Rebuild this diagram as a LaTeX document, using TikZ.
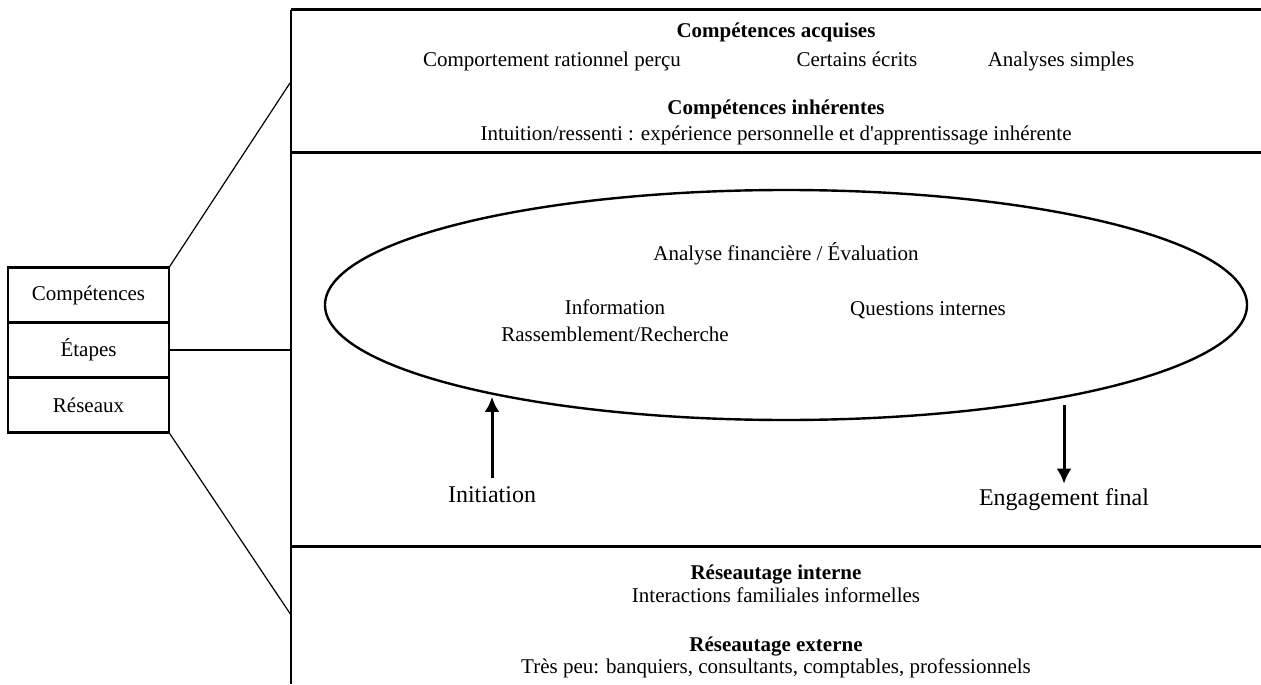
\documentclass[tikz,border=0pt]{standalone}
\usepackage{fontspec}
\setmainfont{Liberation Serif}
\usetikzlibrary{positioning,arrows.meta,shapes.geometric}
\tikzset{
	txt/.style={font=\fontsize{10.5}{13}\selectfont, inner sep=0, anchor=base},
	bold/.style={txt, font=\fontsize{10.5}{13}\selectfont\bfseries},
	big/.style={font=\fontsize{12}{14}\selectfont, inner sep=0, anchor=base},
	part/.style={draw, line width=1.2, minimum width=80.5pt, minimum height=27.5pt, inner sep=0, outer sep=0, font=\fontsize{10.5}{13}\selectfont},
	flow/.style={arrows=-{Latex[length=7.5pt,width=7.5pt]}, line width=1.5}
}
\begin{document}
\begin{tikzpicture}[x=0.5pt,y=-0.5pt]
	\useasboundingbox (0,0) rectangle (1261,684);
	% Panels
	\draw [line width=1.0] (291,10) -- (291,684);
	\draw [line width=1.5] (291,10) -- (1261,10);
	\draw [line width=1.5] (291,153) -- (1261,153);
	\draw [line width=1.5] (291,546) -- (1261,546);
	% Left boxes
	\node [part] (comp) at (88.5,295) {Compétences};
	\node [part, below=0pt of comp] (etap) {Étapes};
	\node [part, below=0pt of etap] (res) {Réseaux};
	\coordinate (top) at (290,83);
	\coordinate (mid) at (291,350);
	\coordinate (bot) at (291,615);
	\draw [line width=0.6] (comp.north east) -- (top);
	\draw [line width=0.6] (etap.east) -- (mid);
	\draw [line width=0.6] (res.south east) -- (bot);
	% Competences
	\node [bold] (acq) at (776,38) {Compétences acquises};
	\node [txt] (ratio) at (552,67) {Comportement rationnel perçu};
	\node [txt] (ecrits) at (857,67) {Certains écrits};
	\node [txt] (simples) at (1061,67) {Analyses simples};
	\node [bold] (inh) at (776,115) {Compétences inhérentes};
	\node [txt] (intu) at (776,141) {Intuition/ressenti : expérience personnelle et d\textquotesingle apprentissage inhérente};
	% Stages
	\node [draw, ellipse, line width=1.2, minimum width=461pt, minimum height=115pt, inner sep=0] (proc) at (786,305) {};
	\node [txt] (fin) at (786,260) {Analyse financière / Évaluation};
	\node [txt, align=center, font=\fontsize{10.5}{13.5}\selectfont] (info) at (615,341) {Information\\Rassemblement/Recherche};
	\node [txt] (quest) at (928,315) {Questions internes};
	\node [big] (init) at (492,502) {Initiation};
	\node [big] (eng) at (1064,505) {Engagement final};
	\draw [flow, shorten <=4pt] (init.north) -- (init.north |- proc.-162);
	\draw [flow, shorten <=5pt, shorten >=2pt] (eng.north |- proc.-17) -- (eng.north);
	% Networks
	\node [bold] (rint) at (776,579) {Réseautage interne};
	\node [txt] (fam) at (776,602) {Interactions familiales informelles};
	\node [bold] (rext) at (776,651) {Réseautage externe};
	\node [txt] (peu) at (776,673) {Très peu: banquiers, consultants, comptables, professionnels};
\end{tikzpicture}
\end{document}
